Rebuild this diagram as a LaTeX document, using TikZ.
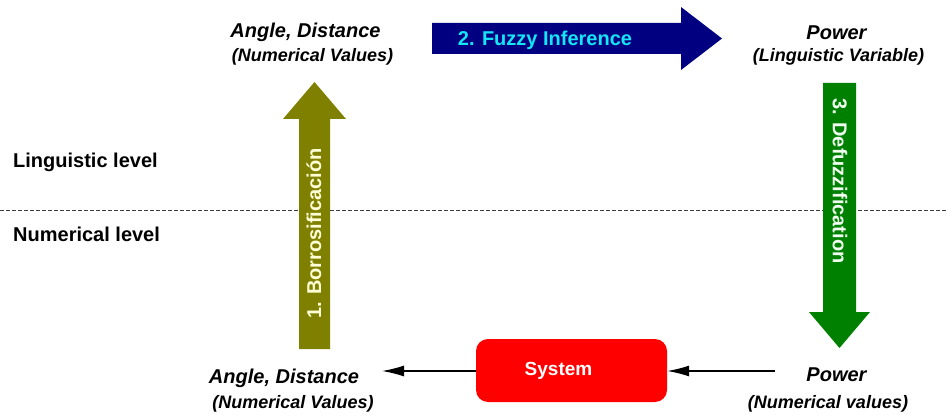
\documentclass[tikz,border=0pt]{standalone}
\usepackage{fontspec}
\setmainfont{Liberation Sans}
\usetikzlibrary{arrows.meta}
\definecolor{olivearr}{RGB}{128,128,0}
\definecolor{navyarr}{RGB}{0,0,128}
\definecolor{greenarr}{RGB}{0,128,0}
\definecolor{sysred}{RGB}{255,0,0}
\definecolor{cyantxt}{RGB}{20,230,245}
\definecolor{creamtxt}{RGB}{255,255,215}
\definecolor{palegreen}{RGB}{240,255,240}
\definecolor{dashgray}{RGB}{60,60,60}
\begin{document}
\begin{tikzpicture}[x=1pt,y=-1pt,
  mainlbl/.style={inner sep=0pt,anchor=base,font=\fontsize{20}{24}\selectfont\bfseries\itshape},
  sublbl/.style={inner sep=0pt,anchor=base,font=\fontsize{18}{22}\selectfont\bfseries\itshape},
  levellbl/.style={inner sep=0pt,anchor=base west,font=\fontsize{20}{24}\selectfont\bfseries},
  arrowtxt/.style={inner sep=0pt,font=\fontsize{20}{24}\selectfont\bfseries},
  flowline/.style={line width=1.3pt,-{Latex[length=22pt,width=11pt]}}]
\useasboundingbox (0,0) rectangle (948,417);

% level separator
\draw[dashgray,line width=1pt,dash pattern=on 4pt off 2pt] (0,210) -- (948,210);

% level labels
\node[levellbl] (ling) at (13,167.3) {Linguistic level};
\node[levellbl] (num) at (13,241.5) {Numerical level};

% big arrows
\fill[olivearr] (299,349) -- (299,119) -- (283,119) -- (314.5,82) -- (346,119) -- (330,119) -- (330,349) -- cycle;
\fill[navyarr] (432,23) -- (681,23) -- (681,7) -- (722,38.5) -- (681,70) -- (681,54) -- (432,54) -- cycle;
\fill[greenarr] (823,83) -- (856,83) -- (856,312) -- (870,312) -- (839.5,348) -- (809,312) -- (823,312) -- cycle;

\node[arrowtxt,text=creamtxt,rotate=90] (fuzz) at (314,233.5) {1. Borrosificación};
\node[arrowtxt,text=cyantxt] (infer) at (545,40.5) {2. Fuzzy Inference};
\node[arrowtxt,text=palegreen,rotate=-90] (defuzz) at (840,181) {3. Defuzzification};

% labels
\node[mainlbl] (tl1) at (305.5,37.7) {Angle, Distance};
\node[sublbl] (tl2) at (312.5,61.7) {(Numerical Values)};
\node[mainlbl] (tr1) at (836.5,40) {Power};
\node[sublbl] (tr2) at (838.5,61.5) {(Linguistic Variable)};
\node[mainlbl] (br1) at (836.5,381) {Power};
\node[sublbl] (br2) at (828,408) {(Numerical values)};
\node[mainlbl] (bl1) at (284,383) {Angle, Distance};
\node[sublbl] (bl2) at (293,408.5) {(Numerical Values)};

% system
\node[fill=sysred,rounded corners=12pt,minimum width=191pt,minimum height=63pt,inner sep=0pt] (system) at (571.5,370.5) {};
\node[inner sep=0pt,text=white,font=\fontsize{19}{23}\selectfont\bfseries] (systxt) at (558.5,371) {System};

\coordinate (inpt) at (775,371);
\coordinate (outpt) at (382,371);
\draw[flowline] (inpt) -- (system.east |- inpt);
\draw[flowline] (system.west |- outpt) -- (outpt);
\end{tikzpicture}
\end{document}
